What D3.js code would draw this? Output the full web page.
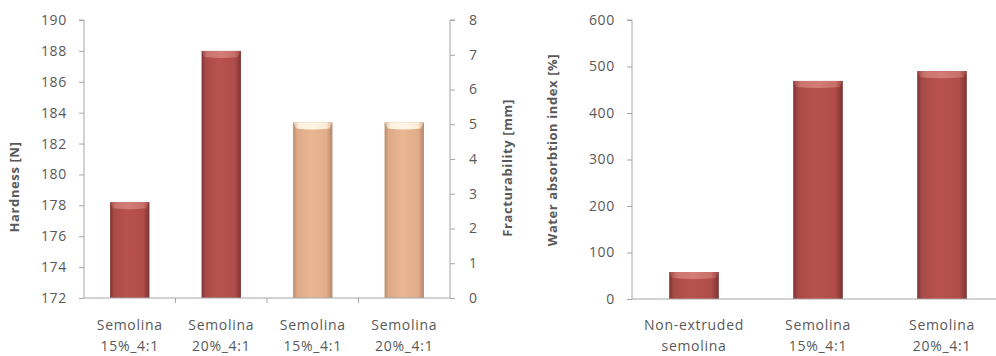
<!DOCTYPE html>
<html><head><meta charset="utf-8">
<script src="https://cdn.jsdelivr.net/npm/d3@7"></script>
<style>
body{margin:0;background:#fff;}
svg{display:block;}
text{font-family:"Open Sans","Noto Sans",sans-serif;fill:#595959;}
</style></head>
<body><svg id="c" width="996" height="356"></svg>
<script>
// Left chart
const leftCats = [["Semolina","15%_4:1"],["Semolina","20%_4:1"],["Semolina","15%_4:1"],["Semolina","20%_4:1"]];
const hardness = [178.2, 188.0, null, null];
const fracturability = [null, null, 5.05, 5.05];
const hardTicks = [172,174,176,178,180,182,184,186,188,190];
const fracTicks = [0,1,2,3,4,5,6,7,8];
// Right chart
const rightCats = [["Non-extruded","semolina"],["Semolina","15%_4:1"],["Semolina","20%_4:1"]];
const wai = [58, 469, 490];
const waiTicks = [0,100,200,300,400,500,600];

const svg = d3.select("#c");
const defs = svg.append("defs");
function grad(id, stops){
  const g = defs.append("linearGradient").attr("id",id).attr("x1","0").attr("x2","1").attr("y1","0").attr("y2","0");
  stops.forEach(s=>g.append("stop").attr("offset",s[0]).attr("stop-color",s[1]));
}
grad("red",[[0,"#7e3533"],[0.1,"#a84a47"],[0.45,"#b9524e"],[0.85,"#b04c49"],[1,"#7a3331"]]);
grad("tan",[[0,"#b98a6a"],[0.1,"#dca988"],[0.45,"#ebb692"],[0.85,"#e2ad8b"],[1,"#b3856a"]]);
grad("redcap",[[0,"#9b4744"],[0.15,"#cc746e"],[0.5,"#d27d76"],[0.85,"#c86f69"],[1,"#974341"]]);
grad("tancap",[[0,"#d8b597"],[0.15,"#fff1dc"],[0.5,"#fff6e8"],[0.85,"#fdebd2"],[1,"#d1ae92"]]);

const axisColor = "#a6a6a6";
const fs = "14px";
const ls = "0.7px";

function drawBar(g, x, w, yTop, yBase, kind){
  g.append("rect").attr("x",x).attr("y",yTop).attr("width",w).attr("height",yBase-yTop)
    .attr("fill",`url(#${kind})`);
  const capH = 6;
  g.append("path")
    .attr("d",`M${x},${yTop} L${x+w},${yTop} L${x+w-3},${yTop+capH} Q${x+w/2},${yTop+capH+2} ${x+3},${yTop+capH} Z`)
    .attr("fill",`url(#${kind}cap)`);
}
function styleAxis(a){
  a.select(".domain").attr("stroke",axisColor);
  a.selectAll(".tick line").attr("stroke",axisColor);
  a.selectAll(".tick text").attr("font-size",fs).attr("fill","#595959").style("letter-spacing",ls);
}
function title(g, x, y, txt){
  g.append("text").attr("transform",`translate(${x},${y}) rotate(-90)`).attr("text-anchor","middle")
    .attr("font-size","13px").attr("font-weight","bold").attr("fill","#3f3f3f").style("letter-spacing","0.6px").text(txt);
}

// ---------- Left chart ----------
const L = {x0:84, x1:450, yTop:20, yBot:298};
const xL = d3.scaleBand().domain(d3.range(leftCats.length)).range([L.x0,L.x1]).paddingInner(0.57).paddingOuter(0.285);
const yH = d3.scaleLinear().domain([172,190]).range([L.yBot,L.yTop]);
const yF = d3.scaleLinear().domain([0,8]).range([L.yBot,L.yTop]);
const gL = svg.append("g");

hardness.forEach((v,i)=>{ if(v!=null) drawBar(gL, xL(i), xL.bandwidth(), yH(v), yH(172), "red"); });
fracturability.forEach((v,i)=>{ if(v!=null) drawBar(gL, xL(i), xL.bandwidth(), yF(v), yF(0), "tan"); });

const axH = gL.append("g").attr("transform",`translate(${L.x0},0)`)
  .call(d3.axisLeft(yH).tickValues(hardTicks).tickSize(5).tickPadding(12).tickFormat(d3.format("d")));
const axF = gL.append("g").attr("transform",`translate(${L.x1},0)`)
  .call(d3.axisRight(yF).tickValues(fracTicks).tickSize(5).tickPadding(14).tickFormat(d3.format("d")));
styleAxis(axH); styleAxis(axF);
axH.select(".domain").attr("d",`M-5,${L.yTop}H0V${L.yBot}`);
axF.select(".domain").attr("d",`M5,${L.yTop}H0V${L.yBot}`);

// x axis left
const xBoundL = d3.scaleLinear().domain([0,leftCats.length]).range([L.x0,L.x1]);
gL.append("line").attr("x1",L.x0).attr("x2",L.x1).attr("y1",L.yBot).attr("y2",L.yBot).attr("stroke",axisColor);
d3.range(1,leftCats.length).forEach(i=>{
  gL.append("line").attr("x1",xBoundL(i)).attr("x2",xBoundL(i)).attr("y1",L.yBot).attr("y2",L.yBot+5).attr("stroke",axisColor);
});
leftCats.forEach((c,i)=>{
  const cx = xL(i)+xL.bandwidth()/2;
  c.forEach((line,j)=>{
    gL.append("text").attr("x",cx).attr("y",330+j*21).attr("text-anchor","middle")
      .attr("font-size",fs).style("letter-spacing",ls).text(line);
  });
});
title(gL, 19, 187, "Hardness [N]");
title(gL, 512, 168, "Fracturability [mm]");

// ---------- Right chart ----------
const R = {x0:632, x1:1004, yTop:20, yBot:299};
const xR = d3.scaleBand().domain(d3.range(rightCats.length)).range([R.x0,R.x1]).paddingInner(0.6).paddingOuter(0.3);
const yW = d3.scaleLinear().domain([0,600]).range([R.yBot,R.yTop]);
const gR = svg.append("g");
wai.forEach((v,i)=>drawBar(gR, xR(i), xR.bandwidth(), yW(v), yW(0), "red"));
const axW = gR.append("g").attr("transform",`translate(${R.x0},0)`)
  .call(d3.axisLeft(yW).tickValues(waiTicks).tickSize(5).tickPadding(12).tickFormat(d3.format("d")));
styleAxis(axW);
axW.select(".domain").attr("d",`M-5,${R.yTop}H0V${R.yBot}`);
gR.append("line").attr("x1",R.x0).attr("x2",R.x1).attr("y1",R.yBot).attr("y2",R.yBot).attr("stroke",axisColor);
rightCats.forEach((c,i)=>{
  const cx = xR(i)+xR.bandwidth()/2;
  c.forEach((line,j)=>{
    gR.append("text").attr("x",cx).attr("y",330+j*21).attr("text-anchor","middle")
      .attr("font-size",fs).style("letter-spacing",ls).text(line);
  });
});
title(gR, 557, 150, "Water absorbtion index [%]");
</script></body></html>
